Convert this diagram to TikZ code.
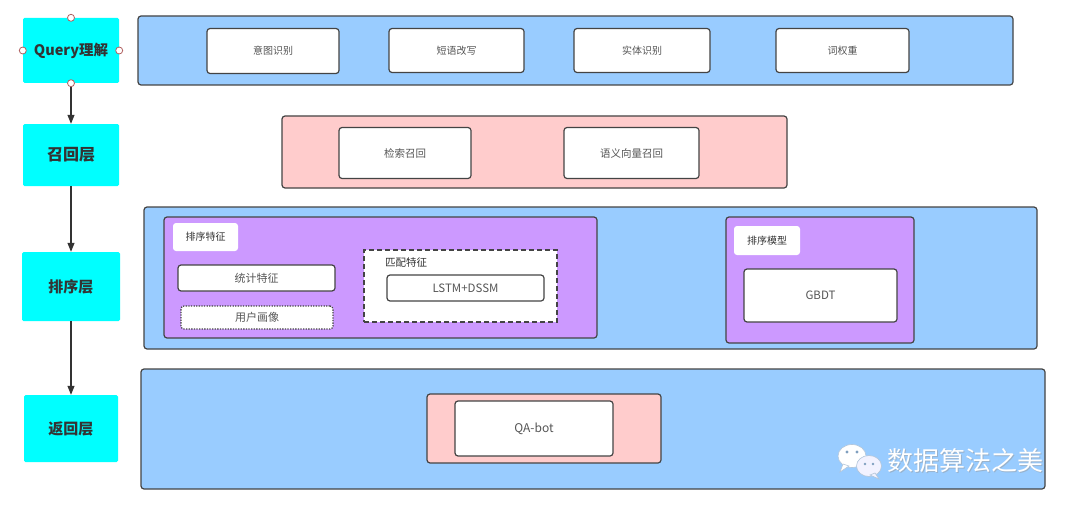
\documentclass[tikz,border=0pt]{standalone}
\usepackage{fontspec}
\setmainfont{Noto Sans CJK SC}
\usetikzlibrary{arrows.meta}
\definecolor{rowblue}{HTML}{99CCFF}
\definecolor{rowpink}{HTML}{FFCCCC}
\definecolor{rowpurple}{HTML}{CC99FF}
\definecolor{layercyan}{HTML}{00FFFF}
\definecolor{edge}{HTML}{444444}
\definecolor{txtdark}{HTML}{333333}
\definecolor{txtgray}{HTML}{555555}
\definecolor{handle}{HTML}{B06060}
\definecolor{wmshadow}{HTML}{7F9FBF}
\begin{document}
\begin{tikzpicture}[x=1pt,y=-1pt,
  wh/.style 2 args={minimum width=#1pt, minimum height=#2pt},
  layer/.style={fill=layercyan, rounded corners=1.5pt, inner sep=0pt, text=txtdark,
    font=\bfseries\fontsize{15}{18}\selectfont},
  panel/.style={draw=edge, line width=1.2pt, rounded corners=3pt, inner sep=0pt},
  item/.style={draw=edge, fill=white, line width=1.2pt, rounded corners=3pt, inner sep=0pt,
    text=txtgray, font=\fontsize{10}{12}\selectfont},
  tagbox/.style={fill=white, rounded corners=3pt, inner sep=0pt, text=txtdark,
    font=\fontsize{10}{12}\selectfont},
  flow/.style={draw=txtdark, line width=1.1pt, -{Triangle[length=9pt,width=7pt]}},
  hdl/.style={draw=handle, fill=white, line width=0.8pt, circle, inner sep=0pt, minimum size=7pt}
]
\useasboundingbox[fill=white] (0,0) rectangle (1080,511);

% left column
\node[layer, wh={96}{65}, font=\bfseries\fontsize{14.5}{17}\selectfont] (q) at (71,50.5) {Query理解};
\node[layer, wh={96}{62}, font=\bfseries\fontsize{16}{19}\selectfont] (r) at (71,155) {召回层};
\node[layer, wh={98}{69}] (s) at (71,286.5) {排序层};
\node[layer, wh={94}{67}] (f) at (71,428.5) {返回层};

\draw[flow] (q.south) -- (r.north);
\draw[flow] (r.south) -- (s.north);
\draw[flow] (s.south) -- (f.north);

\node[hdl] (h1) at (q.north) {};
\node[hdl] (h2) at (q.west) {};
\node[hdl] (h3) at (q.east) {};
\node[hdl] (h4) at (q.south) {};

% row 1
\node[panel, fill=rowblue, wh={875}{69}] (p1) at (575.5,50.5) {};
\node[item, wh={132}{45}] (a1) at (273,51) {意图识别};
\node[item, wh={135}{44}] (a2) at (456.5,50.5) {短语改写};
\node[item, wh={136}{44}] (a3) at (642,50.5) {实体识别};
\node[item, wh={133}{44}] (a4) at (842.5,50.5) {词权重};

% row 2
\node[panel, fill=rowpink, wh={505}{72}] (p2) at (534.5,152) {};
\node[item, wh={132}{51}, font=\fontsize{10.5}{12}\selectfont] (b1) at (405,153) {检索召回};
\node[item, wh={135}{51}, font=\fontsize{10.5}{12}\selectfont] (b2) at (631.5,153) {语义向量召回};

% row 3
\node[panel, fill=rowblue, wh={893}{142}] (p3) at (590.5,278) {};
\node[panel, fill=rowpurple, wh={433}{121}] (pl) at (380.5,277.5) {};
\node[tagbox, wh={65}{28}] (t1) at (205.5,237) {排序特征};
\node[item, wh={157}{26}, font=\fontsize{11}{13}\selectfont] (c1) at (256.5,278) {统计特征};
\node[item, wh={152}{23}, dash pattern=on 1.3pt off 1.3pt, font=\fontsize{11}{13}\selectfont] (c2) at (257,317.5) {用户画像};
\node[draw=edge, fill=white, line width=1.4pt, dash pattern=on 5pt off 3pt, inner sep=0pt, wh={193}{72}] (m) at (460.5,286) {};
\node[anchor=west, inner sep=0pt, text=txtdark, font=\fontsize{10.5}{12}\selectfont] (mt) at (385,263) {匹配特征};
\node[item, wh={157}{26}, font=\fontsize{11.5}{13}\selectfont] (c3) at (465.5,288) {LSTM+DSSM};
\node[panel, fill=rowpurple, wh={188}{126}] (pr) at (820,280) {};
\node[tagbox, wh={66}{29}] (t2) at (767,240.5) {排序模型};
\node[item, wh={153}{53}, font=\fontsize{11.5}{13}\selectfont] (c4) at (820.5,295.5) {GBDT};

% row 4
\node[panel, fill=rowblue, wh={904}{120}] (p4) at (593,429) {};
\node[panel, fill=rowpink, wh={234}{69}] (pq) at (544,428.5) {};
\node[item, wh={158}{55}, font=\fontsize{12}{14}\selectfont] (qa) at (534,428.5) {QA-bot};

% watermark
\begin{scope}
  \fill[white, draw=wmshadow!60, line width=0.6pt] (852,456) ellipse [x radius=14, y radius=11.5];
  \fill[white, draw=wmshadow!60, line width=0.6pt] (843,464) -- (840,472) -- (849,466) -- cycle;
  \fill[white!95!blue, draw=wmshadow!60, line width=0.6pt] (869,466) ellipse [x radius=12.5, y radius=10.5];
  \fill[white!95!blue, draw=wmshadow!60, line width=0.6pt] (875,473) -- (879,479) -- (870,475) -- cycle;
  \fill[wmshadow] (847,452) circle (1.6pt) (857,452) circle (1.6pt);
  \fill[wmshadow] (865,464) circle (1.4pt) (873,464) circle (1.4pt);
\end{scope}
\node[anchor=west, inner sep=0pt, text=wmshadow!80, font=\fontsize{26}{29}\selectfont] at (887.8,461.8) {数据算法之美};
\node[anchor=west, inner sep=0pt, text=white, font=\fontsize{26}{29}\selectfont] (wm) at (887,461) {数据算法之美};
\end{tikzpicture}
\end{document}
